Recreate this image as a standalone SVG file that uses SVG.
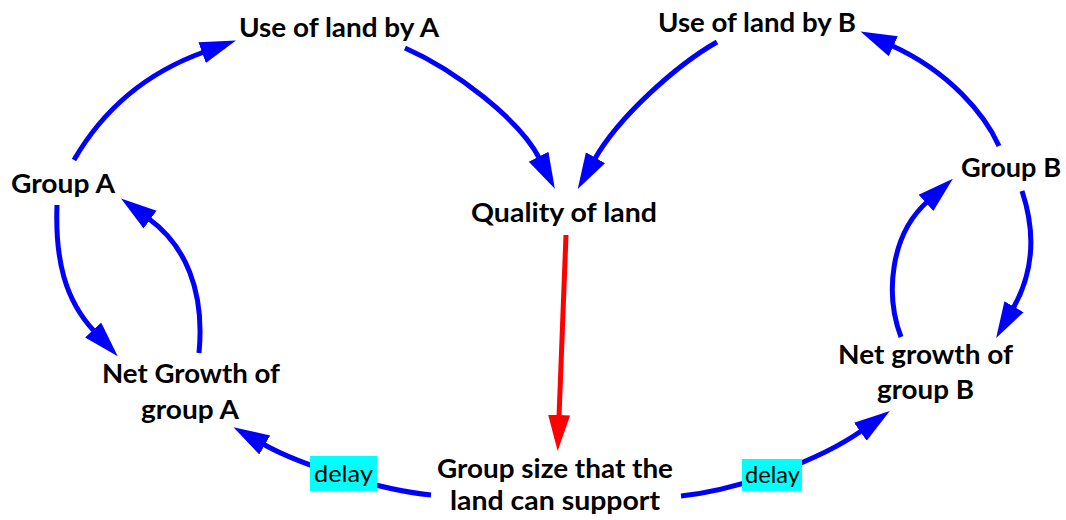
<svg xmlns="http://www.w3.org/2000/svg" width="1066" height="520" viewBox="0 0 1066 520">
<style>
.lbl{font-family:Lato,"Liberation Sans",sans-serif;font-weight:bold;font-size:26.5px;fill:#000}
.dl{font-family:Lato,"Liberation Sans",sans-serif;font-size:23px;fill:#000}
.b{fill:none;stroke:#0000FF;stroke-width:5;marker-end:url(#ab)}
.r{fill:none;stroke:#FF0000;stroke-width:5;marker-end:url(#ar)}
.box{fill:#00FFFF}
</style>
<defs>
<marker id="ab" markerUnits="userSpaceOnUse" markerWidth="40" markerHeight="26" viewBox="0 -13 40 26" refX="2" refY="0" orient="auto"><path d="M0,-11 L36,0 L0,11 Z" fill="#0000FF"/></marker>
<marker id="ar" markerUnits="userSpaceOnUse" markerWidth="40" markerHeight="26" viewBox="0 -13 40 26" refX="2" refY="0" orient="auto"><path d="M0,-11 L36,0 L0,11 Z" fill="#FF0000"/></marker>
</defs>
<g id="connectors">
<path class="b" d="M74,160 C100,115 140,75 204,52"/>
<path class="b" d="M405,48 C455,70 520,120 539.5,158.5"/>
<path class="b" d="M717,42 C675,66 618,118 594.5,159.5"/>
<path class="b" d="M999,146 C985,115 950,72 891.5,45.5"/>
<path class="b" d="M57,205 C55,260 65,300 94.5,331.5"/>
<path class="b" d="M199,353 C205,290 185,245 148.5,218.5"/>
<path class="b" d="M431,495 C380,490 300,465 263,444"/>
<path class="b" d="M681,496 C740,490 820,460 862,430.5"/>
<path class="b" d="M1022,191 C1035,230 1035,270 1013,308.5"/>
<path class="b" d="M901,337 C885,295 890,235 927.5,201.5"/>
<path class="r" d="M566,235 L559,417"/>
</g>
<g id="delay1"><rect class="box" x="310" y="456" width="67" height="35"/><text class="dl" x="314" y="482" textLength="59" lengthAdjust="spacingAndGlyphs">delay</text></g>
<g id="delay2"><rect class="box" x="742" y="459" width="60" height="32"/><text class="dl" x="745" y="483" textLength="55" lengthAdjust="spacingAndGlyphs">delay</text></g>
<g id="useA"><text class="lbl" x="239" y="37" textLength="200" lengthAdjust="spacingAndGlyphs">Use of land by A</text></g>
<g id="useB"><text class="lbl" x="658" y="32" textLength="198" lengthAdjust="spacingAndGlyphs">Use of land by B</text></g>
<g id="groupA"><text class="lbl" x="11" y="193" textLength="104" lengthAdjust="spacingAndGlyphs">Group A</text></g>
<g id="groupB"><text class="lbl" x="961" y="177" textLength="100" lengthAdjust="spacingAndGlyphs">Group B</text></g>
<g id="quality"><text class="lbl" x="471" y="222" textLength="186" lengthAdjust="spacingAndGlyphs">Quality of land</text></g>
<g id="netA"><text class="lbl" x="102" y="383" textLength="178" lengthAdjust="spacingAndGlyphs">Net Growth of</text><text class="lbl" x="141" y="419" textLength="98" lengthAdjust="spacingAndGlyphs">group A</text></g>
<g id="netB"><text class="lbl" x="838" y="364" textLength="175" lengthAdjust="spacingAndGlyphs">Net growth of</text><text class="lbl" x="877" y="399" textLength="97" lengthAdjust="spacingAndGlyphs">group B</text></g>
<g id="support"><text class="lbl" x="437" y="478" textLength="236" lengthAdjust="spacingAndGlyphs">Group size that the</text><text class="lbl" x="450" y="510" textLength="210" lengthAdjust="spacingAndGlyphs">land can support</text></g>
</svg>
